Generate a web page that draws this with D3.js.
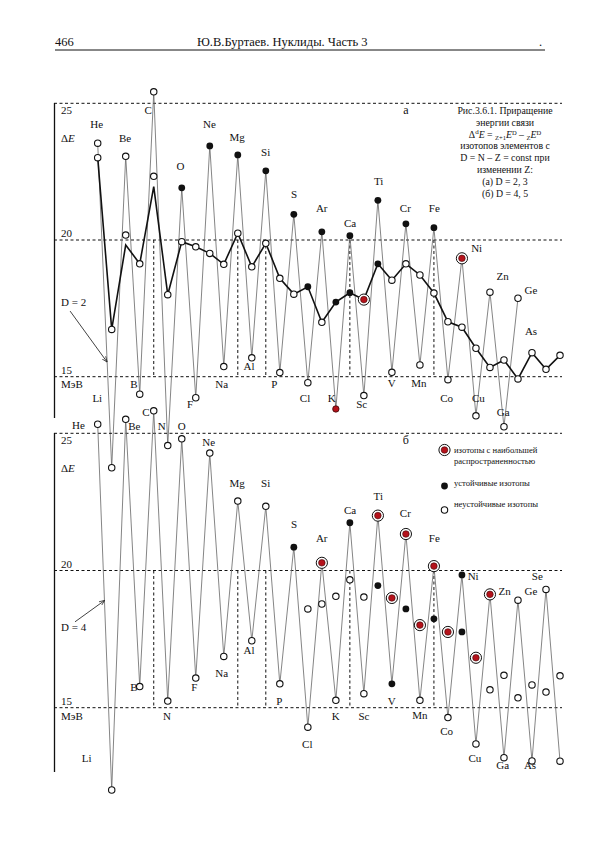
<!DOCTYPE html>
<html>
<head>
<meta charset="utf-8">
<script src="https://cdn.jsdelivr.net/npm/d3@7"></script>
<style>
  body { margin: 0; background: #fff; }
  text { font-family: "Liberation Serif", "DejaVu Serif", serif; fill: #111; }
</style>
</head>
<body>
<script>
// panel a, D = 2 (thin line), Z = 2..32
const d2E = [23.54, 11.67, 23.06, 14.36, 25.42, 12.48, 21.91, 14.23, 23.44, 15.37, 23.11, 15.69, 22.53, 15.15,
  20.94, 14.78, 20.30, 13.82, 20.16, 14.31, 21.45, 15.16, 20.59, 15.43, 20.45, 14.89, 19.33, 13.57, 18.09, 13.17, 17.87];
// o = unstable, f = stable, r = most abundant, k = red dot
const d2Type = "oooooo" + "fofofofofof" + "k" + "fofofofo" + "r" + "oooo";
// panel a, D = 3 (thick line), Z = 2..35
const d3E = [23.01, 16.73, 19.82, 19.13, 21.95, 18.00, 19.94, 19.75, 19.51, 19.11, 20.25, 19.02, 19.88, 18.60,
  18.02, 18.29, 16.99, 17.73, 18.07, 17.82, 19.13, 18.53, 19.13, 18.72, 18.06, 17.01, 16.81, 16.04, 15.34,
  15.61, 14.92, 15.88, 15.27, 15.78];
const d3Type = "oo-o-o" + "ooooooooo" + "f" + "o" + "ff" + "r" + "f" + "ooooooooooooo";
const d3ExtraZ = [4, 6];
const d3ExtraE = [20.18, 22.33];
// panel b, D = 4 (thin line), Z = 2..35
const d4E = [25.33, 12.00, 25.51, 15.77, 25.82, 15.24, 24.80, 16.08, 24.28, 16.87, 22.53, 17.44, 22.34, 15.87,
  20.85, 14.29, 20.28, 15.27, 21.74, 15.51, 22.00, 15.87, 21.33, 15.27, 20.16, 14.64, 19.84, 13.68, 19.13,
  13.18, 18.92, 13.06, 19.31, 13.05];
const d4Type = "oooooooooooooo" + "forofor" + "frorof" + "or" + "ooooo";
// panel b, D = 5 (points), Z = 17..35
const d5E = [18.60, 18.78, 19.06, 19.66, 19.03, 19.45, 19.00, 18.60, 18.01, 18.24, 17.76, 17.76, 16.82, 15.65,
  16.18, 15.36, 15.83, 15.57, 16.16];
const d5Type = "ooooo" + "frfrfrfr" + "oooooo";

const dashZ = [6, 12, 14, 20, 26];
const yTicks = [25, 20, 15];

// element labels: [name, Z position, energy]
const labA = [["He", 1.93, 24.10], ["Be", 3.95, 23.57], ["C", 5.61, 24.61], ["O", 7.9, 22.56], ["Ne", 9.97, 24.10],
  ["Mg", 11.96, 23.61], ["Si", 13.99, 23.08], ["S", 16.01, 21.54], ["Ar", 17.99, 21.01], ["Ca", 20.01, 20.49],
  ["Ti", 22.06, 22.01], ["Cr", 23.96, 21.01], ["Fe", 26.03, 21.01], ["Ni", 29.05, 19.57], ["Zn", 30.91, 18.54],
  ["Ge", 32.93, 18.02], ["As", 32.93, 16.54], ["Li", 1.97, 14.06], ["B", 4.59, 14.59], ["Na", 10.85, 14.59],
  ["Al", 12.8, 15.25], ["P", 14.61, 14.59], ["Cl", 16.8, 14.06], ["F", 8.59, 13.86], ["K", 18.7, 14.06],
  ["Sc", 20.84, 13.86], ["V", 22.99, 14.61], ["Mn", 24.93, 14.61], ["Co", 26.91, 14.06], ["Cu", 29.17, 14.06],
  ["Ga", 30.95, 13.55]];
const labB = [["C", 5.45, 25.64], ["He", 0.62, 25.16], ["Be", 4.61, 25.13], ["N", 6.57, 25.13], ["O", 8.0, 25.13],
  ["Ne", 9.92, 24.55], ["Mg", 11.96, 23.05], ["Si", 13.99, 23.05], ["S", 16.01, 21.54], ["Ar", 17.99, 21.03],
  ["Ca", 20.01, 22.06], ["Ti", 22.03, 22.57], ["Cr", 23.96, 21.94], ["Fe", 26.03, 21.03], ["Ni", 28.8, 19.66],
  ["Se", 33.38, 19.66], ["Zn", 31.05, 19.12], ["Ge", 32.93, 19.12], ["B", 4.59, 15.62], ["Na", 10.85, 16.11],
  ["Al", 12.8, 16.96], ["F", 8.9, 15.6], ["P", 14.96, 15.11], ["N", 6.95, 14.55], ["Li", 1.21, 13.01],
  ["Cl", 16.96, 13.53], ["K", 18.99, 14.55], ["Sc", 21.01, 14.55], ["V", 22.99, 15.11], ["Mn", 25.0, 14.59],
  ["Co", 26.91, 14.02], ["Cu", 28.93, 13.01], ["Ga", 30.91, 12.77], ["As", 32.86, 12.77]];

const captionLines = ["Рис.3.6.1. Приращение", "энергии связи", null, "изотопов элементов с",
  "D = N – Z = const при", "изменении Z:", "(а) D = 2, 3", "(б) D = 4, 5"];
const legendItems = [["r", ["изотопы с наибольшей", "распространенностью"]], ["f", ["устойчивые изотопы"]],
  ["o", ["неустойчивые изотопы"]]];

const width = 600, height = 850;
const svg = d3.select("body").append("svg").attr("width", width).attr("height", height);

const x = d3.scaleLinear().domain([2, 35]).range([97.7, 560]);
const yA = d3.scaleLinear().domain([15, 25]).range([376.7, 103.3]);
const yB = d3.scaleLinear().domain([15, 25]).range([707.7, 433.3]);

const series = (vals, types, z0) => vals.map((v, i) => ({ z: z0 + i, v: v, t: types[i] }));

// header
svg.append("text").attr("x", 55).attr("y", 46).attr("font-size", 12.5).text("466");
svg.append("text").attr("x", 197).attr("y", 46).attr("font-size", 12.5).text("Ю.В.Буртаев. Нуклиды. Часть 3");
svg.append("text").attr("x", 539).attr("y", 46).attr("font-size", 12.5).text(".");
svg.append("line").attr("x1", 55).attr("x2", 545).attr("y1", 50).attr("y2", 50)
  .attr("stroke", "#111").attr("stroke-width", 1);

function drawPanel(y, top, bottom, unitY, deY) {
  const g = svg.append("g");
  g.append("line").attr("x1", 54.5).attr("x2", 54.5).attr("y1", top).attr("y2", bottom)
    .attr("stroke", "#111").attr("stroke-width", 1.3);
  yTicks.forEach((t) => {
    g.append("line").attr("x1", 54).attr("x2", 562).attr("y1", y(t)).attr("y2", y(t))
      .attr("stroke", "#111").attr("stroke-width", 1).attr("stroke-dasharray", "3,2.5");
    g.append("text").attr("x", 61).attr("y", t === 25 ? y(t) + 11 : y(t) - 3)
      .attr("font-size", 11).text(t);
  });
  dashZ.forEach((z) => {
    g.append("line").attr("x1", x(z)).attr("x2", x(z)).attr("y1", y(20)).attr("y2", y(15))
      .attr("stroke", "#111").attr("stroke-width", 1).attr("stroke-dasharray", "3,2.5");
  });
  const de = g.append("text").attr("x", 61).attr("y", deY).attr("font-size", 11);
  de.append("tspan").text("Δ");
  de.append("tspan").attr("font-style", "italic").text("E");
  g.append("text").attr("x", 61).attr("y", unitY).attr("font-size", 11).text("МэВ");
  return g;
}

const gA = drawPanel(yA, 103, 418, 388, 142);
const gB = drawPanel(yB, 433, 772, 720, 472);

function drawLine(g, data, y, color, w) {
  g.append("path").datum(data)
    .attr("d", d3.line().x((d) => x(d.z)).y((d) => y(d.v)))
    .attr("fill", "none").attr("stroke", color).attr("stroke-width", w);
}

function drawMarks(g, data, y) {
  data.forEach((d) => {
    const cx = x(d.z), cy = y(d.v);
    if (d.t === "o") {
      g.append("circle").attr("cx", cx).attr("cy", cy).attr("r", 3.2)
        .attr("fill", "#fff").attr("stroke", "#111").attr("stroke-width", 1.1);
    } else if (d.t === "f") {
      g.append("circle").attr("cx", cx).attr("cy", cy).attr("r", 3.4).attr("fill", "#111");
    } else if (d.t === "r") {
      g.append("circle").attr("cx", cx).attr("cy", cy).attr("r", 5.6)
        .attr("fill", "#fff").attr("stroke", "#111").attr("stroke-width", 1);
      g.append("circle").attr("cx", cx).attr("cy", cy).attr("r", 3.3)
        .attr("fill", "#b5121b").attr("stroke", "#3a0a0a").attr("stroke-width", 0.6);
    } else if (d.t === "k") {
      g.append("circle").attr("cx", cx).attr("cy", cy).attr("r", 3.2)
        .attr("fill", "#b5121b").attr("stroke", "#3a0a0a").attr("stroke-width", 0.8);
    }
  });
}

const sD2 = series(d2E, d2Type, 2);
const sD3 = series(d3E, d3Type, 2);
const sD4 = series(d4E, d4Type, 2);
const sD5 = series(d5E, d5Type, 17);
const sD3x = d3ExtraZ.map((z, i) => ({ z: z, v: d3ExtraE[i], t: "o" }));

drawLine(gB, sD4, yB, "#666", 0.8);
drawLine(gA, sD2, yA, "#666", 0.8);
drawLine(gA, sD3, yA, "#111", 1.6);
drawMarks(gA, sD2, yA);
drawMarks(gA, sD3, yA);
drawMarks(gA, sD3x, yA);
drawMarks(gB, sD4, yB);
drawMarks(gB, sD5, yB);

function drawLabels(g, labs, y) {
  g.selectAll(null).data(labs).enter().append("text")
    .attr("x", (d) => x(d[1])).attr("y", (d) => y(d[2]))
    .attr("text-anchor", "middle").attr("font-size", 11).text((d) => d[0]);
}
drawLabels(gA, labA, yA);
drawLabels(gB, labB, yB);

// panel letters
svg.append("text").attr("x", x(24)).attr("y", yA(24.6)).attr("text-anchor", "middle").attr("font-size", 12).text("а");
svg.append("text").attr("x", x(24)).attr("y", yB(24.6)).attr("text-anchor", "middle").attr("font-size", 12).text("б");

// D arrows
svg.append("defs").append("marker").attr("id", "ah").attr("viewBox", "0 0 10 10")
  .attr("refX", 9).attr("refY", 5).attr("markerWidth", 7).attr("markerHeight", 7).attr("orient", "auto")
  .append("path").attr("d", "M0,1 L10,5 L0,9").attr("fill", "none").attr("stroke", "#111").attr("stroke-width", 1.2);

function dArrow(label, y, lv, z1, v1, z2, v2) {
  svg.append("text").attr("x", 61).attr("y", y(lv)).attr("font-size", 11).text(label);
  svg.append("line").attr("x1", x(z1)).attr("y1", y(v1)).attr("x2", x(z2)).attr("y2", y(v2))
    .attr("stroke", "#111").attr("stroke-width", 0.8).attr("marker-end", "url(#ah)");
}
dArrow("D = 2", yA, 17.6, 0.03, 17.4, 2.65, 15.55);
dArrow("D = 4", yB, 17.8, 0.38, 18.13, 2.47, 18.9);

// caption
const cap = svg.append("g");
captionLines.forEach((s, i) => {
  const yy = 114 + i * 11.8;
  const t = cap.append("text").attr("x", 505).attr("y", yy).attr("text-anchor", "middle").attr("font-size", 9.8);
  if (s !== null) {
    t.text(s);
  } else {
    t.append("tspan").text("Δ");
    t.append("tspan").attr("font-size", 7).attr("dy", -4).text("d");
    t.append("tspan").attr("font-style", "italic").attr("dy", 4).text("E");
    t.append("tspan").text(" = ");
    t.append("tspan").attr("font-size", 6.5).attr("dy", 2).text("Z+1");
    t.append("tspan").attr("font-style", "italic").attr("dy", -2).text("E");
    t.append("tspan").attr("font-size", 6.5).attr("dy", -3).text("D");
    t.append("tspan").attr("dy", 3).text(" – ");
    t.append("tspan").attr("font-size", 6.5).attr("dy", 2).text("Z");
    t.append("tspan").attr("font-style", "italic").attr("dy", -2).text("E");
    t.append("tspan").attr("font-size", 6.5).attr("dy", -3).text("D");
  }
});

// legend
const legY = [450, 486, 510];
legendItems.forEach((item, i) => {
  drawMarks(svg, [{ z: x.invert(444.5), v: yB.invert(legY[i]), t: item[0] }], yB);
  item[1].forEach((s, j) => {
    svg.append("text").attr("x", 454).attr("y", legY[i] + 3 + j * 11 - (i === 2 ? 6 : i === 1 ? 3 : 0))
      .attr("font-size", 8.6).text(s);
  });
});
</script>
</body>
</html>
